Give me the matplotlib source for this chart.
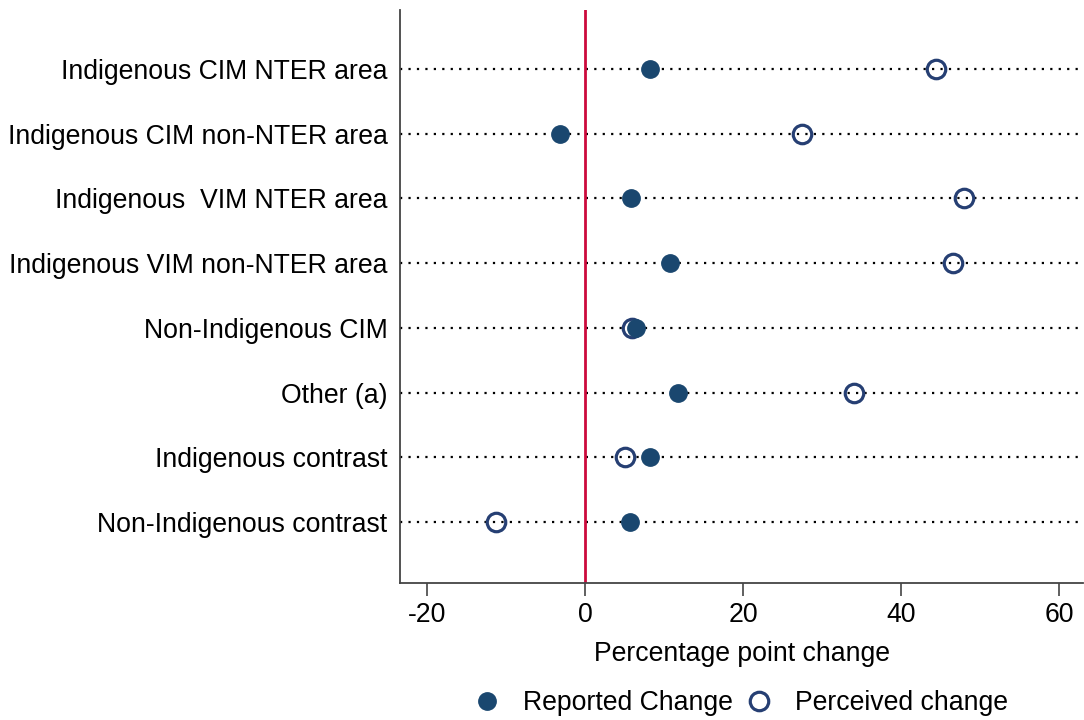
import matplotlib.pyplot as plt
from matplotlib.lines import Line2D

plt.rcParams['font.family'] = ['Liberation Sans', 'DejaVu Sans']

# groups from top to bottom
groups = ['Indigenous CIM NTER area', 'Indigenous CIM non-NTER area',
          'Indigenous  VIM NTER area', 'Indigenous VIM non-NTER area',
          'Non-Indigenous CIM', 'Other (a)', 'Indigenous contrast',
          'Non-Indigenous contrast']
reported = [8.2, -3.1, 5.8, 10.7, 6.5, 11.8, 8.2, 5.7]
perceived = [44.4, 27.5, 47.9, 46.5, 6.0, 34.0, 5.1, -11.2]
xticks = [-20, 0, 20, 40, 60]

navy = '#1a476f'
navy2 = '#263f73'
fs = 19.2

fig = plt.figure(figsize=(10.84, 7.2), dpi=100)
ax = fig.add_axes([400 / 1084, 1 - 583 / 720, 683 / 1084, 573 / 720])

ypos = list(range(1, len(groups) + 1))
for y in ypos:
    ax.axhline(y, color='black', lw=1.6, ls=(0, (1, 2.8)), zorder=1)

ax.axvline(0, color='#cc0a3c', lw=2, zorder=2)

ax.plot(perceived, ypos, 'o', ms=13.3, mfc='none', mec=navy2, mew=2.3, zorder=3)
ax.plot(reported, ypos, 'o', ms=12.5, color=navy, mec=navy, zorder=4)

ax.set_xlim(-23.4, 63.0)
ax.set_ylim(8.94, 0.09)
ax.set_yticks(ypos)
ax.set_yticklabels(groups, fontsize=fs)
ax.set_xticks(xticks)
ax.set_xticklabels([str(t) for t in xticks], fontsize=fs)
ax.tick_params(axis='y', length=0, pad=9)
ax.tick_params(axis='x', length=9, width=1.2, color='#444444', pad=5)
ax.set_xlabel('Percentage point change', fontsize=fs, labelpad=9)

for s in ['top', 'right']:
    ax.spines[s].set_visible(False)
for s in ['left', 'bottom']:
    ax.spines[s].set_color('#444444')
    ax.spines[s].set_linewidth(1.3)

handles = [Line2D([], [], marker='o', ls='none', ms=12.5, color=navy),
           Line2D([], [], marker='o', ls='none', ms=13.3, mfc='none', mec=navy2, mew=2.3)]
fig.legend(handles, ['Reported Change', 'Perceived change'], loc='center',
           bbox_to_anchor=(739 / 1084, 1 - 703 / 720), ncol=2, frameon=False,
           fontsize=fs, handletextpad=0.7, columnspacing=0.35, handlelength=1.3)

fig.savefig('out.png', dpi=100)
